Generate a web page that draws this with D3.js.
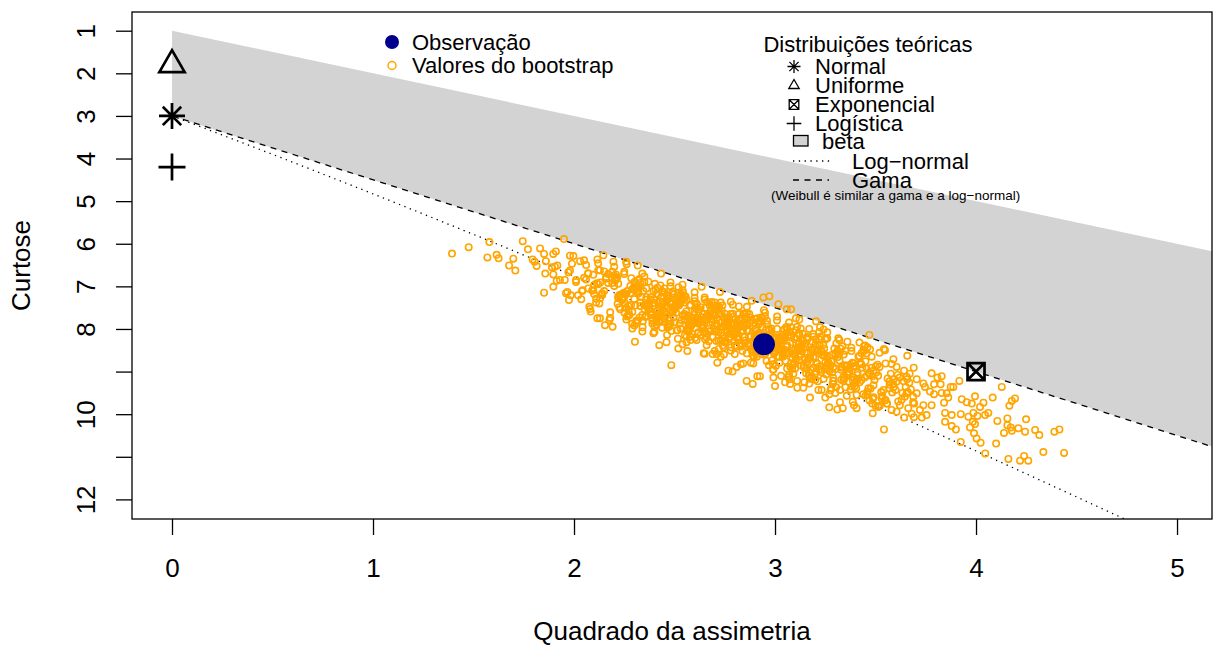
<!DOCTYPE html>
<html>
<head>
<meta charset="utf-8">
<script src="https://cdn.jsdelivr.net/npm/d3@7"></script>
<style>
  body { margin: 0; background: #fff; }
  svg { display: block; }
</style>
</head>
<body>
<svg width="1213" height="646"></svg>
<script>
// Cullen and Frey graph: skewness^2 vs kurtosis, bootstrap cloud

const FONT = '"Liberation Sans", Arial, Helvetica, sans-serif';

// axis ticks
const xTicks = [0, 1, 2, 3, 4, 5];
const yTicks = [1, 2, 3, 4, 5, 6, 7, 8, 9, 10, 11, 12];
const yTickLabels = ['1', '2', '3', '4', '5', '6', '7', '8', '', '10', '', '12'];

// theoretical limits (skewness^2 -> kurtosis)
const limitSkew2 = [0, 5.5];
const limitKurt = [1, 6.5];      // lower bound of kurtosis
const gammaKurt = [3, 11.25];    // gamma line

// log-normal curve
const lognormalSkew2 = [0, 0.229, 0.465, 0.961, 1.488, 2.048, 2.640, 3.267, 3.928, 4.624, 4.913];
const lognormalKurt = [3, 3.41, 3.838, 4.756, 5.758, 6.850, 8.035, 9.320, 10.710, 12.210, 12.842];

// theoretical distributions
const distNames = ['Normal', 'Uniforme', 'Exponencial', 'Logística'];
const distSkew2 = [0, 0, 4, 0];
const distKurt = [3, 1.8, 9, 4.2];
const distSymbols = ['asterisk', 'triangle', 'boxx', 'plus'];

// observation
const obsSkew2 = 2.945;
const obsKurt = 8.36;

// bootstrap values [skewness^2, kurtosis]
const bootValues = [
  [1.393,6.23],[1.476,6.08],[1.579,5.96],[1.569,6.32],[1.615,6.26],[1.625,6.34],[1.745,5.94],[1.771,6.13],[1.698,6.35],[1.677,6.51],
  [1.708,6.63],[1.831,6.11],[1.851,6.24],[1.794,6.37],[1.814,6.52],[1.804,6.42],[1.897,6.24],[1.910,6.18],[1.950,5.89],[1.980,6.28],
  [1.997,6.29],[2.050,6.39],[2.116,6.37],[1.905,6.54],[1.917,6.51],[1.857,6.70],[1.897,6.72],[1.914,6.87],[1.972,6.67],[1.954,6.85],
  [1.897,7.01],[1.851,7.15],[1.967,7.13],[1.984,7.21],[1.975,7.32],[2.036,7.30],[2.076,7.48],[2.083,7.59],[2.010,6.85],[2.060,6.84],
  [2.043,7.09],[2.071,6.70],[2.096,6.73],[2.113,6.93],[2.096,7.09],[2.071,7.05],[2.121,6.62],[2.126,7.40],[2.116,7.75],
  [2.146,6.27],[2.196,6.42],[2.259,6.42],[2.262,6.48],[2.317,6.51],[2.433,6.70],[2.129,6.62],[2.635,7.01],[2.726,7.13],[2.884,7.34],
  [2.129,7.75],[2.154,7.91],[2.192,7.95],[2.176,7.79],[2.303,8.30],[2.424,8.38],[2.395,8.10],[2.519,8.46],[2.511,8.03],
  [2.484,8.85],[2.564,8.52],[2.645,8.57],[2.710,8.59],[2.746,8.60],[2.713,8.79],[2.768,8.98],[2.789,9.00],[2.809,8.89],[2.842,8.81],
  [2.859,8.57],[2.859,9.22],[2.889,9.29],[2.912,9.11],[2.892,8.81],
  [2.925,9.11],[2.992,8.95],[3.000,9.34],[2.992,9.14],[3.050,9.25],[3.075,9.29],[3.072,9.18],[3.111,9.38],[3.141,9.38],[3.174,9.61],
  [3.171,9.28],[3.216,9.43],[3.232,9.43],[3.250,9.61],[3.270,9.84],[3.310,9.89],[3.337,9.86],[3.323,9.72],[3.323,9.43],[3.387,9.71],
  [3.393,9.79],[3.406,9.86],[3.406,9.55],[3.439,9.53],[3.459,9.53],[3.486,9.98],[3.514,9.83],[3.542,10.36],[3.531,9.63],[3.556,9.75],
  [3.580,9.90],[3.605,9.94],[3.642,10.08],[3.663,9.86],[3.692,9.75],[3.705,9.51],[3.688,9.59],[3.655,9.51],[3.547,8.50],[3.658,8.63],
  [3.481,8.65],[3.473,8.48],[3.443,8.40],[3.456,8.57],[3.423,8.81],[3.589,8.71],[3.605,8.89],[3.642,8.98],[3.655,9.12],[3.705,9.18],
  [2.942,7.26],[2.972,7.23],[3.017,7.42],[3.058,7.54],[3.080,7.54],[2.945,7.56],[3.104,7.75],[3.121,7.78],[3.204,7.82],[3.128,7.99],
  [3.224,7.96],[3.241,8.01],[3.191,8.18],[3.257,8.22],[3.315,8.22],[3.360,8.30],[3.469,8.14],[3.448,8.39],[3.542,8.47],
  [3.779,9.04],[3.808,9.14],[3.829,9.11],[3.738,9.28],[3.746,9.36],[3.791,9.30],[3.824,9.30],[3.771,9.47],[3.791,9.53],[3.829,9.50],
  [3.854,9.51],[3.874,9.36],[3.887,9.36],[3.917,9.22],[3.862,9.61],[3.841,9.73],[3.779,9.79],[3.738,9.79],[3.721,9.90],[3.754,10.02],
  [3.730,10.08],[3.846,9.97],[3.879,10.02],[3.846,10.18],[3.879,10.28],[3.900,10.36],[3.924,10.65],[3.929,9.65],[3.954,9.72],[3.979,9.75],
  [3.995,9.58],[4.037,9.73],[4.020,9.83],[4.083,9.61],[4.128,9.36],[3.924,10.00],[3.962,10.06],[3.987,9.97],[4.007,10.04],[4.045,10.02],
  [4.061,9.97],[3.984,10.18],[3.995,10.23],[3.970,10.31],[3.990,10.45],[4.003,10.57],[4.023,10.67],[4.046,10.92],[4.100,10.69],[4.106,10.16],
  [4.156,10.10],[4.156,10.26],[4.139,10.44],[4.173,10.31],[4.178,10.39],[4.211,10.33],[4.244,10.41],[4.249,10.12],[4.166,9.80],[4.178,9.69],
  [4.194,9.63],[4.294,10.37],[4.315,10.49],[4.390,10.41],[4.415,10.36],[4.335,10.89],[4.438,10.91],[4.219,11.09],[4.239,10.98],[4.260,11.09],
  [4.161,11.05],
  [1.86,6.41],[1.93,6.85],[1.99,6.47],[2.02,7.21],[2.05,6.80],[2.08,7.53],[1.96,7.16],[2.01,6.90],[2.06,6.50],[1.89,6.55],
  [2.09,7.10],[2.04,7.11],[1.98,6.63],[2.07,6.69],[2.03,6.41],
  [2.10,6.97],[2.17,6.71],[2.11,7.29],[2.19,6.92],[2.14,7.16],[2.12,6.46],[2.18,7.61],[2.13,6.91],[2.16,6.78],[2.10,7.18],
  [2.15,7.11],[2.19,6.66],[2.11,7.38],[2.17,6.92],[2.14,7.20],[2.18,7.74],[2.12,6.95],[2.16,6.82],[2.13,7.28],[2.15,6.65],
  [2.22,7.24],[2.27,7.69],[2.20,6.99],[2.25,6.71],[2.29,7.60],[2.23,7.20],[2.21,6.83],[2.26,7.78],[2.28,7.16],[2.24,7.32],
  [2.20,6.54],[2.27,7.46],[2.22,6.94],[2.25,7.25],[2.29,7.99],[2.21,6.80],[2.26,7.18],[2.23,7.54],[2.28,6.99],[2.24,7.18],
  [2.20,6.75],[2.26,7.51],[2.29,7.07],[2.22,7.28],[2.25,6.66],
  [2.31,7.81],[2.36,7.25],[2.30,6.99],[2.38,7.60],[2.33,7.38],[2.35,6.90],[2.39,7.80],[2.32,7.14],[2.37,7.55],[2.34,6.70],
  [2.30,7.92],[2.36,7.31],[2.31,7.05],[2.38,7.65],[2.33,6.92],[2.35,7.44],[2.39,7.87],[2.32,7.17],[2.37,6.89],[2.34,7.67],
  [2.30,7.30],[2.36,7.05],[2.31,7.86],[2.38,7.31],[2.33,7.46],[2.35,6.77],[2.39,7.64],[2.32,7.09],[2.37,7.43],[2.34,8.06],
  [2.44,7.14],[2.40,7.39],[2.47,7.90],[2.42,7.20],[2.49,7.56],[2.45,7.13],[2.41,7.74],[2.46,7.32],[2.43,7.60],[2.48,7.00],
  [2.40,7.94],[2.44,7.37],[2.47,7.25],[2.42,7.66],[2.49,7.62],[2.45,7.05],[2.41,7.83],[2.46,7.35],[2.43,7.64],[2.48,6.91],
  [2.40,8.07],[2.44,7.43],[2.47,7.29],[2.42,7.71],[2.49,7.16],[2.45,7.59],[2.41,7.90],[2.46,7.38],[2.43,6.98],[2.48,7.88],
  [2.40,7.45],[2.46,8.31],
  [2.53,7.31],[2.58,8.26],[2.50,7.49],[2.55,7.79],[2.52,7.02],[2.57,7.91],[2.51,7.38],[2.59,7.76],[2.54,8.36],[2.56,7.32],
  [2.50,7.54],[2.53,7.99],[2.58,7.44],[2.55,7.65],[2.52,7.23],[2.57,7.98],[2.51,7.40],[2.59,7.84],[2.54,7.09],[2.56,8.18],
  [2.50,7.46],[2.53,7.34],[2.58,7.90],[2.55,7.71],[2.52,7.15],[2.57,8.07],[2.51,7.43],[2.59,7.88],[2.54,6.96],[2.56,8.31],
  [2.50,7.52],[2.53,7.38],[2.58,7.95],[2.55,7.25],
  [2.62,7.84],[2.67,8.29],[2.60,7.59],[2.65,7.31],[2.69,8.20],[2.63,7.80],[2.61,7.43],[2.66,8.38],[2.68,7.76],[2.64,7.92],
  [2.60,7.14],[2.67,8.06],[2.62,7.54],[2.65,7.85],[2.69,8.59],[2.61,7.40],[2.66,7.78],[2.63,8.14],[2.68,7.59],[2.64,7.78],
  [2.60,7.35],[2.66,8.11],[2.69,7.67],[2.62,7.88],[2.65,7.26],[2.61,8.26],[2.67,7.72],[2.63,7.49],[2.68,8.05],[2.64,7.84],
  [2.60,7.27],[2.66,8.20],[2.62,7.59],[2.65,8.58],
  [2.73,8.09],[2.78,7.36],[2.70,8.52],[2.75,7.90],[2.72,7.66],[2.77,8.24],[2.71,7.49],[2.79,8.10],[2.74,8.39],[2.76,7.83],
  [2.70,7.38],[2.73,8.26],[2.78,8.02],[2.75,7.64],[2.72,8.47],[2.77,7.90],[2.71,8.03],[2.79,7.43],[2.74,8.16],[2.76,7.75],
  [2.70,7.92],[2.73,8.65],[2.78,7.65],[2.75,7.92],[2.72,8.27],[2.77,7.73],[2.71,7.89],[2.79,7.64],[2.74,8.23],[2.76,7.77],
  [2.70,8.00],[2.73,7.38],[2.78,8.51],[2.75,7.84],
  [2.82,7.77],[2.87,8.34],[2.80,8.08],[2.85,7.65],[2.89,8.55],[2.83,7.91],[2.81,8.21],[2.86,7.48],[2.88,8.79],[2.84,8.03],
  [2.80,7.78],[2.87,8.39],[2.82,7.65],[2.85,8.19],[2.89,8.62],[2.81,7.91],[2.86,7.62],[2.83,8.41],[2.88,8.17],[2.84,7.77],
  [2.80,8.59],[2.86,8.03],[2.89,8.30],[2.82,7.47],[2.85,8.33],[2.81,7.83],[2.87,8.18],[2.83,8.83],[2.88,7.80],[2.84,8.05],
  [2.80,8.39],[2.86,7.86],
  [2.91,8.19],[2.96,7.89],[2.90,8.47],[2.98,8.10],[2.93,8.35],[2.95,7.71],[2.99,8.83],[2.92,8.09],[2.97,8.00],[2.94,8.44],
  [2.90,8.23],[2.96,7.81],[2.91,8.58],[2.98,8.13],[2.93,8.39],[2.95,7.62],[2.99,8.96],[2.92,8.15],[2.97,8.04],[2.94,8.49],
  [2.90,7.77],[2.96,8.35],[2.91,8.65],[2.98,8.16],[2.93,7.73],[2.95,8.59],[2.99,8.34],[2.92,7.89],[2.97,8.85],[2.94,8.15],
  [3.02,8.49],[3.07,7.85],[3.00,8.55],[3.05,8.19],[3.09,8.51],[3.03,9.10],[3.01,8.00],[3.06,8.38],[3.08,8.81],[3.04,8.13],
  [3.00,8.32],[3.07,8.06],[3.02,8.65],[3.05,8.21],[3.09,8.59],[3.01,7.80],[3.06,8.93],[3.03,8.26],[3.08,8.16],[3.04,8.59],
  [3.00,8.38],[3.06,7.96],[3.09,8.85],[3.02,8.19],[3.05,8.57],[3.01,7.71],[3.07,9.08],[3.03,8.32],[3.08,8.20],[3.04,8.64],
  [3.12,8.10],[3.17,8.67],[3.10,8.93],[3.15,8.42],[3.19,8.12],[3.13,8.86],[3.11,8.52],[3.16,8.25],[3.18,9.16],[3.14,8.45],
  [3.10,8.61],[3.17,8.00],[3.12,8.73],[3.15,8.34],[3.19,8.66],[3.11,9.22],[3.16,8.22],[3.13,8.49],[3.18,8.96],[3.14,8.28],
  [3.10,8.47],[3.16,8.19],[3.19,8.91],[3.12,8.31],[3.15,8.68],[3.11,7.95],[3.17,9.10],[3.13,8.41],
  [3.22,8.37],[3.27,8.94],[3.20,8.68],[3.25,8.25],[3.29,9.15],[3.23,8.51],[3.21,8.81],[3.26,8.08],[3.28,9.39],[3.24,8.63],
  [3.20,8.38],[3.27,8.99],[3.22,8.25],[3.25,8.79],[3.29,9.22],[3.21,8.51],[3.26,8.22],[3.23,9.01],[3.28,8.77],[3.24,8.37],
  [3.20,9.19],[3.26,8.63],[3.29,8.90],[3.22,8.07],[3.25,8.93],[3.27,9.53],
  [3.32,8.59],[3.37,8.93],[3.30,9.50],[3.35,8.51],[3.39,8.88],[3.33,9.19],[3.31,8.54],[3.36,8.86],[3.38,8.52],[3.34,9.13],
  [3.30,8.58],[3.37,9.01],[3.32,8.26],[3.35,9.37],[3.39,8.80],[3.31,8.51],[3.36,9.07],[3.33,8.88],[3.38,8.44],[3.34,9.22],
  [3.30,8.61],[3.36,9.03],
  [3.42,8.32],[3.47,9.68],[3.40,8.87],[3.45,8.76],[3.49,9.32],[3.43,8.57],[3.41,9.03],[3.46,9.47],[3.48,8.91],[3.44,8.49],
  [3.40,9.26],[3.47,9.06],[3.42,8.64],[3.45,9.57],[3.49,8.98],[3.41,9.08],[3.46,8.43],[3.43,9.20],
  [3.52,8.89],[3.57,9.23],[3.50,9.80],[3.55,8.81],[3.59,9.18],[3.53,9.49],[3.51,8.84],[3.56,9.16],[3.58,8.82],[3.54,9.43],
  [3.50,8.88],[3.57,9.31],[3.52,8.56],[3.55,9.67],
  [3.62,9.14],[3.67,9.05],[3.60,9.43],[3.65,9.36],[3.69,8.91],[3.63,9.66],[3.61,9.08],[3.66,9.48],[3.68,9.99],[3.64,9.23],
  [2.205,6.86],[2.245,7.29],[2.285,6.81],[2.225,7.49],[2.265,7.11],[2.215,6.79],[2.255,7.40],[2.295,7.07],[2.235,7.19],[2.275,7.67],
  [2.208,6.72],[2.248,7.15],
  [2.305,7.45],[2.345,7.11],[2.385,7.67],[2.325,6.83],[2.365,7.43],[2.315,7.14],[2.355,7.72],[2.395,7.11],[2.335,7.25],[2.375,7.52],
  [2.302,6.89],[2.342,7.82],[2.382,7.26],[2.322,7.03],[2.362,7.46],[2.318,6.86],[2.358,7.69],[2.398,7.31],
  [2.405,7.08],[2.445,7.69],[2.485,7.36],[2.425,7.48],[2.465,7.96],[2.415,7.03],[2.455,7.46],[2.495,7.73],[2.435,7.24],[2.475,7.80],
  [2.402,6.94],[2.442,7.54],[2.482,7.39],[2.422,7.82],[2.462,7.21],[2.418,7.38],[2.458,7.65],[2.498,7.19],[2.438,7.97],[2.478,7.41],
  [2.412,7.17],[2.452,7.60],[2.492,7.12],[2.432,7.80],
  [2.505,7.47],[2.545,7.29],[2.585,7.90],[2.525,7.42],[2.565,7.69],[2.515,8.03],[2.555,7.24],[2.595,7.67],[2.535,7.79],[2.575,7.45],
  [2.502,7.84],[2.542,7.15],[2.582,7.75],[2.522,7.45],[2.562,8.03],[2.518,7.30],[2.558,7.59],[2.598,7.86],[2.538,7.25],[2.578,8.18],
  [2.512,7.46],[2.552,7.38],[2.592,7.81],[2.532,7.18],[2.572,8.01],[2.508,7.62],
  [2.605,7.50],[2.645,8.06],[2.685,7.37],[2.625,7.82],[2.665,7.67],[2.615,8.11],[2.655,7.50],[2.695,7.79],[2.635,7.91],[2.675,7.45],
  [2.602,8.21],[2.642,7.65],[2.682,7.57],[2.622,7.85],[2.662,7.37],[2.618,8.08],[2.658,7.70],[2.698,7.52],[2.638,7.98],[2.678,7.65],
  [2.612,7.76],[2.652,8.24],[2.692,7.45],[2.632,7.73],[2.672,8.00],[2.608,7.50],[2.648,8.09],[2.688,7.84],
  [2.705,7.50],[2.745,8.43],[2.785,7.87],[2.725,7.64],[2.765,8.07],[2.715,7.45],[2.755,8.28],[2.795,7.90],[2.735,7.57],[2.775,8.18],
  [2.702,7.68],[2.742,7.95],[2.782,8.43],[2.722,7.49],[2.762,7.92],[2.718,8.07],[2.758,7.73],[2.798,8.29],[2.738,7.45],[2.778,8.05],
  [2.712,7.74],[2.752,8.32],[2.792,7.71],[2.732,7.85],[2.772,8.12],[2.708,8.28],[2.748,7.73],[2.788,8.04],
  [2.805,8.09],[2.845,7.94],[2.885,8.52],[2.825,7.76],[2.865,8.05],[2.815,8.18],[2.855,7.72],[2.895,8.65],[2.835,7.94],[2.875,7.86],
  [2.802,8.12],[2.842,7.64],[2.882,8.47],[2.822,7.94],[2.862,7.76],[2.818,8.25],[2.858,7.92],[2.898,8.19],[2.838,8.52],[2.878,7.73],
  [2.812,8.00],[2.852,8.27],[2.892,7.93],[2.832,8.34],[2.872,7.65],[2.808,8.42],
  [2.905,7.99],[2.945,8.26],[2.985,8.74],[2.925,7.80],[2.965,8.23],[2.915,8.36],[2.955,8.02],[2.995,8.58],[2.935,7.74],[2.975,8.34],
  [2.902,8.02],[2.942,8.60],[2.982,7.99],[2.922,8.13],[2.962,8.40],[2.918,7.82],[2.958,8.75],[2.998,8.19],[2.938,7.96],[2.978,8.39],
  [2.912,7.75],[2.952,8.58],[2.992,8.20],[2.932,8.45],
  [3.005,8.47],[3.045,8.01],[3.085,8.94],[3.025,8.23],[3.065,8.15],[3.015,8.44],[3.055,7.96],[3.095,8.79],[3.035,8.26],[3.075,8.08],
  [3.002,8.52],[3.042,8.19],[3.082,8.46],[3.022,8.79],[3.062,8.00],[3.018,8.31],[3.058,8.58],[3.098,8.24],[3.038,8.65],[3.078,7.96],
  [3.012,8.40],[3.052,8.75],
  [3.105,8.33],[3.145,8.91],[3.185,8.30],[3.125,8.44],[3.165,8.71],[3.115,8.11],[3.155,9.04],[3.195,8.48],[3.135,8.25],[3.175,8.68],
  [3.102,8.03],[3.142,8.86],[3.182,8.48],[3.122,8.15],[3.162,8.76],[3.118,8.31],[3.158,8.58],[3.198,9.06],[3.138,8.12],[3.178,8.55],
  [3.205,8.80],[3.245,8.46],[3.285,9.02],[3.225,8.18],[3.265,8.78],[3.215,8.49],[3.255,9.07],[3.295,8.46],[3.235,8.60],[3.275,8.87],
  [3.202,8.24],[3.242,9.17],[3.282,8.61],[3.222,8.38],[3.262,8.81],[3.218,8.95],
  [3.305,8.34],[3.345,9.17],[3.385,8.79],[3.325,8.46],[3.365,9.07],[3.315,8.60],[3.355,8.87],[3.395,9.35],[3.335,8.41],[3.375,8.84],
  [3.302,8.94],[3.342,8.60],
  [3.405,9.20],[3.445,8.51],[3.485,9.11],[3.425,8.81],[3.465,9.39],[3.415,8.64],[3.455,8.93],[3.495,9.20],
  [3.013,8.64],[3.057,8.42],[3.091,9.05],[3.034,8.52],[3.076,8.89],[3.021,8.22],[3.068,9.13],[3.087,8.68],[3.046,8.48],[3.004,8.87],
  [3.113,8.43],[3.157,8.93],[3.191,8.91],[3.134,8.53],[3.176,9.17],[3.121,8.65],[3.168,9.03],[3.187,8.47],[3.146,9.25],[3.104,8.71],
  [3.129,8.60],[3.183,9.13],
  [3.213,9.23],[3.257,8.86],[3.291,9.22],[3.234,8.54],[3.276,9.44],[3.221,8.88],[3.268,8.81],[3.287,9.29],[3.246,8.63],[3.204,9.00],
  [3.229,8.96],[3.283,8.75],
  [3.313,8.66],[3.357,9.57],[3.391,9.14],[3.334,8.91],[3.376,9.42],[3.321,8.74],[3.368,9.24],[3.387,9.20],[3.346,8.85],[3.304,9.37],
  [3.329,8.96],[3.383,9.35],
  [3.413,9.17],[3.457,9.10],[3.491,9.60],[3.434,8.91],[3.476,9.40],[3.421,9.25],[3.468,9.03],[3.487,9.64],[3.446,9.14],[3.404,9.39],
  [3.429,8.83],[3.483,9.75],
  [3.513,9.10],[3.557,9.75],[3.591,9.36],[3.534,9.58],[3.576,9.05],[3.521,9.81],[3.568,9.40],[3.587,9.29],[3.546,9.68],[3.504,9.02],
  [3.529,9.48],[3.583,9.49],
  [3.613,9.70],[3.657,9.18],[3.691,10.07],[3.634,9.50],[3.676,9.42],[3.621,9.79],[3.668,9.26],[3.687,9.72],[3.646,9.59],[3.604,9.24],
  [2.217,7.41],[2.263,7.71],[2.241,7.29],[2.289,7.88],[2.272,7.58],[2.226,7.21],[2.251,7.62],[2.284,7.44],
  [2.317,7.80],[2.363,7.47],[2.341,7.96],[2.389,7.75],[2.372,7.43],[2.326,7.73],[2.351,7.54],[2.384,7.66],
  [2.417,7.56],[2.463,8.14],[2.441,7.83],[2.489,7.60],[2.472,7.95],[2.426,7.65],[2.451,7.76],[2.484,8.05],
  [2.517,8.23],[2.563,8.01],[2.541,7.68],[2.589,8.12],[2.572,7.87],[2.526,7.87],[2.551,8.15],[2.584,7.81]
];

const svg = d3.select('svg');

// plot region
const plot = { left: 132, right: 1212, top: 12, bottom: 519 };

const scaleX = d3.scaleLinear()
  .domain([-0.199, 5.174])
  .range([plot.left, plot.right]);

// kurtosis axis is reversed (1 at the top)
const scaleY = d3.scaleLinear()
  .domain([0.561, 12.46])
  .range([plot.top, plot.bottom]);

svg.append('defs')
  .append('clipPath')
  .attr('id', 'plot-clip')
  .append('rect')
  .attr('x', plot.left)
  .attr('y', plot.top)
  .attr('width', plot.right - plot.left)
  .attr('height', plot.bottom - plot.top);

const inner = svg.append('g').attr('clip-path', 'url(#plot-clip)');

// beta region
const betaPoly = [
  [limitSkew2[0], limitKurt[0]],
  [limitSkew2[1], limitKurt[1]],
  [limitSkew2[1], gammaKurt[1]],
  [limitSkew2[0], gammaKurt[0]]
];
inner.append('polygon')
  .attr('points', betaPoly.map(d => `${scaleX(d[0])},${scaleY(d[1])}`).join(' '))
  .attr('fill', '#d3d3d3')
  .attr('stroke', 'none');

// log-normal line (dotted)
const lognormalLine = d3.line()
  .x(d => scaleX(d[0]))
  .y(d => scaleY(d[1]))
  .curve(d3.curveMonotoneX);
inner.append('path')
  .attr('d', lognormalLine(lognormalSkew2.map((s, i) => [s, lognormalKurt[i]])))
  .attr('fill', 'none')
  .attr('stroke', '#000')
  .attr('stroke-width', 1.3)
  .attr('stroke-dasharray', '1.3,4.5');

// gamma line (dashed)
inner.append('path')
  .attr('d', d3.line().x(d => scaleX(d[0])).y(d => scaleY(d[1]))(limitSkew2.map((s, i) => [s, gammaKurt[i]])))
  .attr('fill', 'none')
  .attr('stroke', '#000')
  .attr('stroke-width', 1.3)
  .attr('stroke-dasharray', '6,5.5');

// draw a base-R like symbol centred at 0,0
const drawSymbol = function (g, kind, s, lw) {
  const st = sel => sel.attr('stroke', '#000').attr('stroke-width', lw).attr('fill', 'none');
  if (kind === 'asterisk') {
    const d = s / Math.SQRT2;
    g.append('path').call(st)
      .attr('d', `M${-s},0H${s}M0,${-s}V${s}M${-d},${-d}L${d},${d}M${-d},${d}L${d},${-d}`);
  } else if (kind === 'plus') {
    g.append('path').call(st).attr('d', `M${-s},0H${s}M0,${-s}V${s}`);
  } else if (kind === 'triangle') {
    const w = s * Math.sqrt(3) / 2;
    g.append('path').call(st)
      .attr('stroke-linejoin', 'miter')
      .attr('d', `M0,${-s}L${w},${s / 2}L${-w},${s / 2}Z`);
  } else if (kind === 'boxx') {
    g.append('path').call(st)
      .attr('d', `M${-s},${-s}H${s}V${s}H${-s}ZM${-s},${-s}L${s},${s}M${-s},${s}L${s},${-s}`);
  }
};

const symbolSize = { asterisk: 13, triangle: 14.6, boxx: 8.5, plus: 13.5 };

// theoretical distribution markers
distNames.forEach((name, i) => {
  const g = inner.append('g')
    .attr('class', 'dist')
    .attr('transform', `translate(${scaleX(distSkew2[i])}, ${scaleY(distKurt[i])})`);
  drawSymbol(g, distSymbols[i], symbolSize[distSymbols[i]], 2.7);
});

// bootstrap cloud
inner.append('g')
  .selectAll('circle')
  .data(bootValues)
  .enter()
  .append('circle')
  .attr('cx', d => scaleX(d[0]))
  .attr('cy', d => scaleY(d[1]))
  .attr('r', 3.2)
  .attr('fill', 'none')
  .attr('stroke', '#ffa500')
  .attr('stroke-width', 1.6);

// observation
inner.append('circle')
  .attr('cx', scaleX(obsSkew2))
  .attr('cy', scaleY(obsKurt))
  .attr('r', 11)
  .attr('fill', '#00008b');

// X axis
const axisX = d3.axisBottom(scaleX)
  .tickValues(xTicks)
  .tickSizeInner(16)
  .tickSizeOuter(0)
  .tickFormat(d3.format('d'));
const axisXGroup = svg.append('g')
  .attr('transform', `translate(0, ${plot.bottom})`)
  .call(axisX);
axisXGroup.select('.domain').remove();
axisXGroup.selectAll('line').attr('stroke', '#000').attr('stroke-width', 1.3);
axisXGroup.selectAll('text')
  .attr('y', 58)
  .attr('dy', 0)
  .attr('fill', '#000')
  .attr('font-family', FONT)
  .attr('font-size', 26);

// Y axis
const axisY = d3.axisLeft(scaleY)
  .tickValues(yTicks)
  .tickSizeInner(16)
  .tickSizeOuter(0)
  .tickFormat((d, i) => yTickLabels[i]);
const axisYGroup = svg.append('g')
  .attr('transform', `translate(${plot.left}, 0)`)
  .call(axisY);
axisYGroup.select('.domain').remove();
axisYGroup.selectAll('line').attr('stroke', '#000').attr('stroke-width', 1.3);
axisYGroup.selectAll('text')
  .attr('x', 0)
  .attr('dy', 0)
  .attr('transform', 'translate(-37, 0) rotate(-90)')
  .attr('text-anchor', 'middle')
  .attr('fill', '#000')
  .attr('font-family', FONT)
  .attr('font-size', 26);

// plot box
svg.append('rect')
  .attr('x', plot.left)
  .attr('y', plot.top)
  .attr('width', plot.right - plot.left)
  .attr('height', plot.bottom - plot.top)
  .attr('fill', 'none')
  .attr('stroke', '#000')
  .attr('stroke-width', 1.3);

// axis titles
svg.append('text')
  .attr('x', (plot.left + plot.right) / 2)
  .attr('y', 640)
  .attr('text-anchor', 'middle')
  .attr('font-family', FONT)
  .attr('font-size', 26)
  .text('Quadrado da assimetria');

svg.append('text')
  .attr('transform', `translate(30, ${(plot.top + plot.bottom) / 2}) rotate(-90)`)
  .attr('text-anchor', 'middle')
  .attr('font-family', FONT)
  .attr('font-size', 26)
  .text('Curtose');

// legend: observation / bootstrap
const legend1 = svg.append('g').attr('font-family', FONT).attr('font-size', 22);
legend1.append('circle').attr('cx', 392).attr('cy', 42).attr('r', 7).attr('fill', '#00008b');
legend1.append('text').attr('x', 412).attr('y', 49.5).text('Observação');
legend1.append('circle').attr('cx', 392).attr('cy', 65.5).attr('r', 4)
  .attr('fill', 'none').attr('stroke', '#ffa500').attr('stroke-width', 1.5);
legend1.append('text').attr('x', 412).attr('y', 73).text('Valores do bootstrap');

// legend: theoretical distributions
const legend2 = svg.append('g').attr('font-family', FONT).attr('font-size', 22);
legend2.append('text').attr('x', 868).attr('y', 52).attr('text-anchor', 'middle')
  .text('Distribuições teóricas');

const legendRowY = [66.5, 85.5, 104.5, 123.5];
const legendSymbolSize = { asterisk: 6.5, triangle: 6, boxx: 4.8, plus: 7.3 };
distNames.forEach((name, i) => {
  const g = legend2.append('g').attr('transform', `translate(794, ${legendRowY[i]})`);
  drawSymbol(g, distSymbols[i], legendSymbolSize[distSymbols[i]], 1.3);
  legend2.append('text').attr('x', 815).attr('y', legendRowY[i] + 7.5).text(name);
});

legend2.append('rect')
  .attr('x', 793.5).attr('y', 135.5).attr('width', 14.5).attr('height', 10.5)
  .attr('fill', '#d3d3d3').attr('stroke', '#000').attr('stroke-width', 1.3);
legend2.append('text').attr('x', 822).attr('y', 149).text('beta');

legend2.append('line')
  .attr('x1', 793).attr('x2', 830).attr('y1', 161).attr('y2', 161)
  .attr('stroke', '#000').attr('stroke-width', 1.3).attr('stroke-dasharray', '1.3,4.5');
legend2.append('text').attr('x', 852).attr('y', 168.5).text('Log−normal');

legend2.append('line')
  .attr('x1', 793).attr('x2', 829).attr('y1', 180).attr('y2', 180)
  .attr('stroke', '#000').attr('stroke-width', 1.3).attr('stroke-dasharray', '6,5.5');
legend2.append('text').attr('x', 852).attr('y', 187.5).text('Gama');

legend2.append('text')
  .attr('x', 771).attr('y', 200)
  .attr('font-size', 13.5)
  .text('(Weibull é similar a gama e a log−normal)');
</script>
</body>
</html>
